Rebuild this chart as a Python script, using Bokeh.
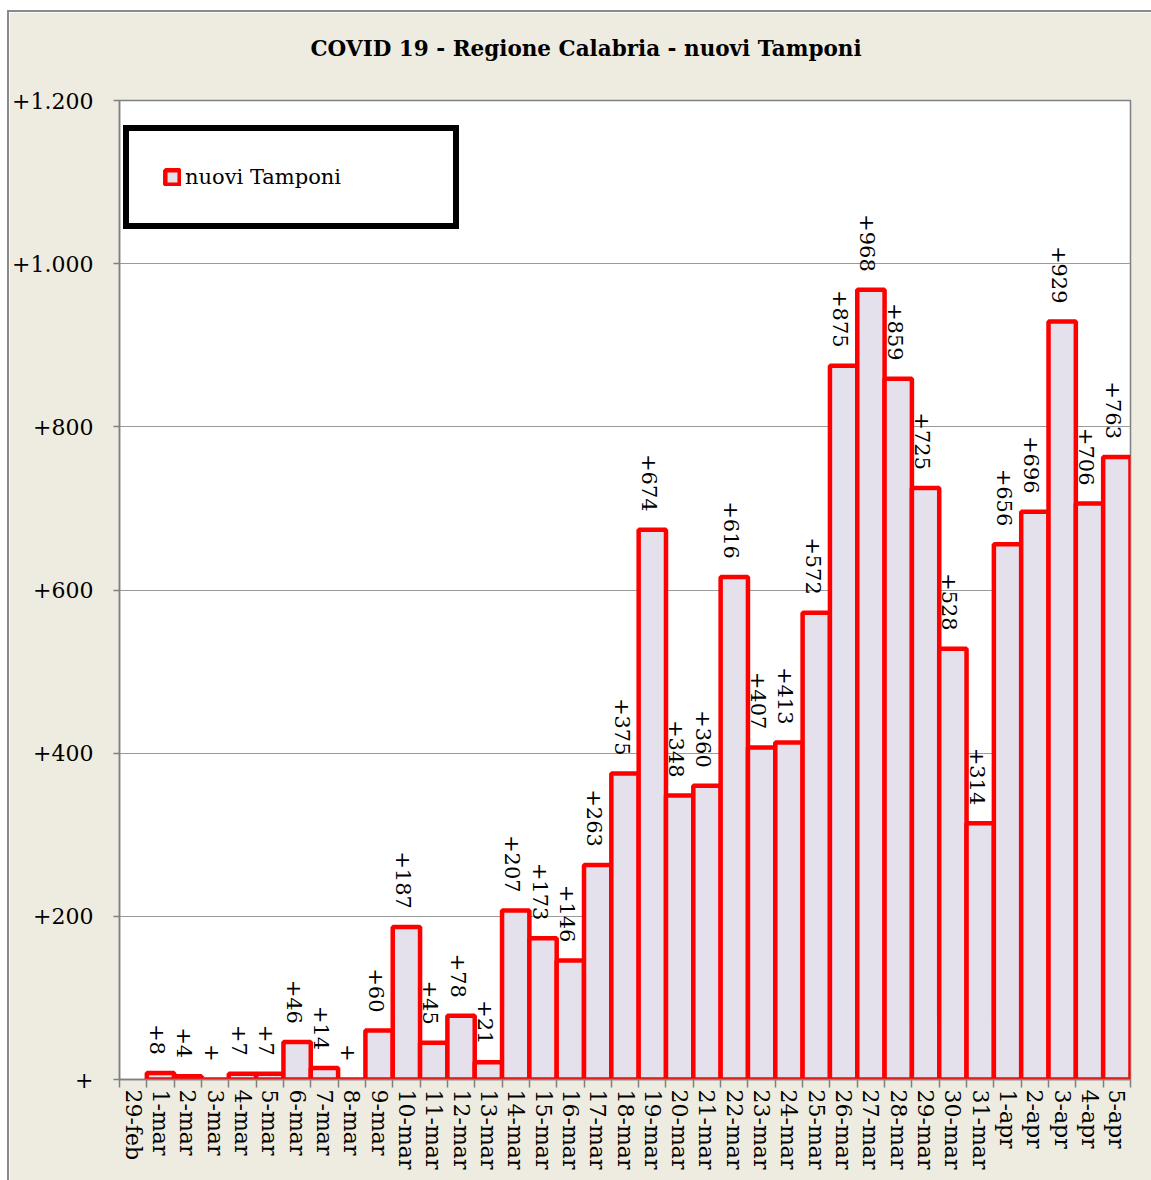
import math
from bokeh.plotting import figure
from bokeh.layouts import column, row
from bokeh.models import (ColumnDataSource, LabelSet, Legend, LegendItem, FixedTicker,
                          CustomJSTickFormatter, Range1d, Spacer)
from bokeh.core.properties import value
from bokeh.embed import file_html
from bokeh.resources import INLINE

# ---- data ----
categories = ["29-feb"] + [f"{d}-mar" for d in range(1, 32)] + [f"{d}-apr" for d in range(1, 6)]
values = [None, 8, 4, 0, 7, 7, 46, 14, 0, 60, 187, 45, 78, 21, 207, 173, 146, 263, 375, 674,
          348, 360, 616, 407, 413, 572, 875, 968, 859, 725, 528, 314, 656, 696, 929, 706, 763]
y_ticks = [0, 200, 400, 600, 800, 1000, 1200]
series_name = "nuovi Tamponi"
title_text = "COVID 19 - Regione Calabria - nuovi Tamponi"

BG = "#EEECE1"
FONT = "DejaVu Serif"

def fmt(v):
    if v is None:
        return ""
    if v == 0:
        return "+"
    return "+" + f"{v:,}".replace(",", ".")

xc = [i + 0.5 for i in range(len(categories))]
tops = [float("nan") if v is None else v for v in values]
labels = [fmt(v) for v in values]
label_y = [0 if v is None else v for v in values]

src = ColumnDataSource(dict(x=xc, top=tops, lab=labels, ly=label_y))

W, H = 1142, 1168
p = figure(width=W, height=H, output_backend="svg", toolbar_location=None,
           x_range=Range1d(0, len(categories)), y_range=Range1d(0, y_ticks[-1]),
           min_border_left=108, min_border_right=21, min_border_top=88, min_border_bottom=101)
p.background_fill_color = "white"
p.border_fill_color = BG
p.outline_line_color = "#808080"
p.outline_line_width = 1.5

p.title.text = title_text + "\n "
p.title.align = "left"
p.title.offset = 191
p.title.text_font = FONT
p.title.text_font_style = "bold"
p.title.text_font_size = "21.5px"
p.title.text_color = "black"
p.title.standoff = 30

bars = p.vbar(x="x", top="top", width=1.0, source=src, fill_color="#E4E0EC",
              line_color="#FF0000", line_width=4.5)

# x axis
p.xaxis.ticker = FixedTicker(ticks=xc, minor_ticks=list(range(len(categories) + 1)))
p.xaxis.formatter = CustomJSTickFormatter(args=dict(labels=categories),
                                          code="return labels[Math.floor(tick)] || '';")
p.xaxis.major_label_orientation = -math.pi / 2
p.xaxis.major_tick_line_color = None
p.xaxis.major_tick_out = 8
p.xaxis.major_tick_in = 0
p.xaxis.minor_tick_out = 8
p.xaxis.minor_tick_in = 0
p.xaxis.minor_tick_line_color = "#808080"
p.xaxis.minor_tick_line_width = 1.5
p.xaxis.major_label_standoff = 2
p.xaxis.axis_line_color = "#808080"
p.xaxis.axis_line_width = 1.5
p.xaxis.major_label_text_font = FONT
p.xaxis.major_label_text_font_size = "22px"
p.xaxis.major_label_text_color = "black"
p.xgrid.grid_line_color = None

# y axis
p.yaxis.ticker = FixedTicker(ticks=y_ticks)
p.yaxis.formatter = CustomJSTickFormatter(code="""
if (tick == 0) return '+';
const s = Math.round(tick).toString().replace(/\\B(?=(\\d{3})+(?!\\d))/g, '.');
return '+' + s;""")
p.yaxis.major_tick_out = 6
p.yaxis.major_tick_in = 0
p.yaxis.minor_tick_line_color = None
p.yaxis.major_tick_line_color = "#808080"
p.yaxis.major_tick_line_width = 1.5
p.yaxis.axis_line_color = "#808080"
p.yaxis.axis_line_width = 1.5
p.yaxis.major_label_standoff = 20
p.yaxis.major_label_text_font = FONT
p.yaxis.major_label_text_font_size = "22px"
p.yaxis.major_label_text_color = "black"
p.ygrid.grid_line_color = "#9A9A9A"
p.ygrid.grid_line_width = 1.2

# data labels
ls = LabelSet(x="x", y="ly", text="lab", source=src, angle=-math.pi / 2,
              text_align="right", text_baseline="middle", y_offset=18, x_offset=-3,
              text_font=value(FONT), text_font_size=value("21px"), text_color="black")
p.add_layout(ls)

# legend
legend = Legend(items=[LegendItem(label=series_name, renderers=[bars])],
                location=(4, 850), margin=0, padding=34,
                border_line_color="black", border_line_width=6, border_line_alpha=1,
                background_fill_color="white", background_fill_alpha=1,
                glyph_width=18, glyph_height=18, label_standoff=4,
                label_height=22, label_width=234,
                label_text_font=FONT, label_text_font_size="21px", label_text_color="black")
p.add_layout(legend)

GRAY = "#8a8a8a"
layout = column(
    Spacer(width=1151, height=10),
    row(Spacer(width=7, height=2), Spacer(width=1144, height=2, styles={"background-color": GRAY})),
    row(Spacer(width=7, height=H), Spacer(width=2, height=H, styles={"background-color": GRAY}), p),
)

open("out.html", "w").write(file_html(layout, INLINE))
